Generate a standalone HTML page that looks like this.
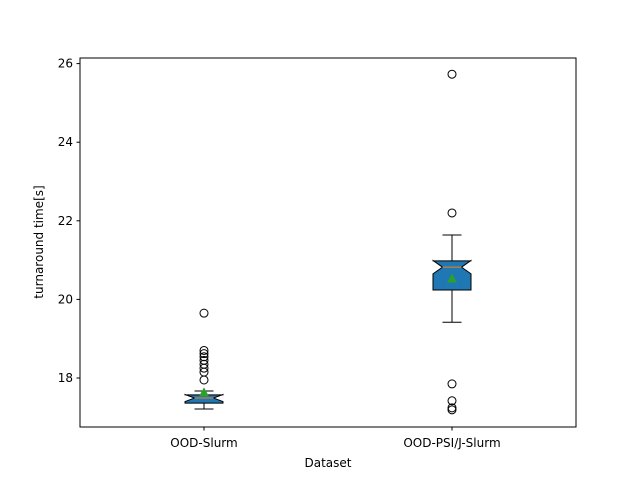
<!DOCTYPE html>
<html><head><meta charset="utf-8"><style>
body{margin:0;background:#fff;}
svg text{font-family:"DejaVu Sans","Liberation Sans",sans-serif;font-size:12px;fill:#000;}
</style></head><body>
<svg id="c" width="640" height="480" xmlns="http://www.w3.org/2000/svg">
<rect x="0" y="0" width="640" height="480" fill="#fff"/>
</svg>
<script>
const categories = ["OOD-Slurm", "OOD-PSI/J-Slurm"];
const q1 = [17.36, 20.24];
const medians = [17.49, 20.82];
const q3 = [17.57, 20.98];
const notchLo = [17.40, 20.65];
const notchHi = [17.58, 20.99];
const whiskLo = [17.21, 19.42];
const whiskHi = [17.67, 21.64];
const means = [17.62, 20.52];
const outliers = [
  [19.65, 18.7, 18.62, 18.54, 18.45, 18.35, 18.25, 18.15, 17.95],
  [25.73, 22.2, 17.85, 17.42, 17.24, 17.19]
];
const yTicks = [18, 20, 22, 24, 26];

const svg = document.getElementById('c');
const NS = 'http://www.w3.org/2000/svg';
const L = 80, R = 576, T = 58, B = 427;
function yS(v){ return 378 - (v - 18) * 39.3; }
function xS(i){ return 204 + i * 248; }
function mk(tag, attrs, parent){
  const e = document.createElementNS(NS, tag);
  for (const k in attrs) e.setAttribute(k, attrs[k]);
  (parent || svg).appendChild(e);
  return e;
}
const frame = mk('rect', {x:L, y:T, width:R-L, height:B-T, fill:'none', stroke:'#000', 'stroke-width':1});


yTicks.forEach(v => {
  const y = yS(v);
  mk('line', {x1:L-3.5, x2:L, y1:y, y2:y, stroke:'#000'});
  const t = mk('text', {x:L-7, y:y+4, 'text-anchor':'end'});
  t.textContent = v;
  
  
});
const hw = 19, nw = 9.5, cw = 9.5;
categories.forEach((c, i) => {
  const x = xS(i);
  const g = mk('g', {});
  
  
  mk('line', {x1:x, x2:x, y1:yS(q1[i]), y2:yS(whiskLo[i]), stroke:'#000'}, g);
  mk('line', {x1:x, x2:x, y1:yS(q3[i]), y2:yS(whiskHi[i]), stroke:'#000'}, g);
  mk('line', {x1:x-cw, x2:x+cw, y1:yS(whiskLo[i]), y2:yS(whiskLo[i]), stroke:'#000'}, g);
  mk('line', {x1:x-cw, x2:x+cw, y1:yS(whiskHi[i]), y2:yS(whiskHi[i]), stroke:'#000'}, g);
  const pts = [
    [x-hw, yS(q1[i])], [x+hw, yS(q1[i])], [x+hw, yS(notchLo[i])], [x+nw, yS(medians[i])],
    [x+hw, yS(notchHi[i])], [x+hw, yS(q3[i])], [x-hw, yS(q3[i])], [x-hw, yS(notchHi[i])],
    [x-nw, yS(medians[i])], [x-hw, yS(notchLo[i])]
  ];
  mk('polygon', {points: pts.map(p => p.join(',')).join(' '), fill:'#1f77b4', stroke:'#000', 'stroke-width':1}, g);
  mk('line', {x1:x-nw, x2:x+nw, y1:yS(medians[i]), y2:yS(medians[i]), stroke:'#ff7f0e', 'stroke-width':1}, g);
  const my = yS(means[i]);
  mk('polygon', {points:`${x},${my-5.5} ${x-5},${my+3.5} ${x+5},${my+3.5}`, fill:'#2ca02c'}, g);
  outliers[i].forEach(v => {
    const o = mk('circle', {cx:x, cy:yS(v), r:4, fill:'none', stroke:'#000'}, g);
    
    
  });
  mk('line', {x1:x, x2:x, y1:B, y2:B+3.5, stroke:'#000'});
  const t = mk('text', {x:x, y:447, 'text-anchor':'middle'});
  t.textContent = c;
  
  
});
const xl = mk('text', {x:328, y:467, 'text-anchor':'middle'});
xl.textContent = 'Dataset';


const yl = mk('text', {x:0, y:0, 'text-anchor':'middle', transform:'translate(43,242) rotate(-90)'});
yl.textContent = 'turnaround time[s]';


</script>
</body></html>
